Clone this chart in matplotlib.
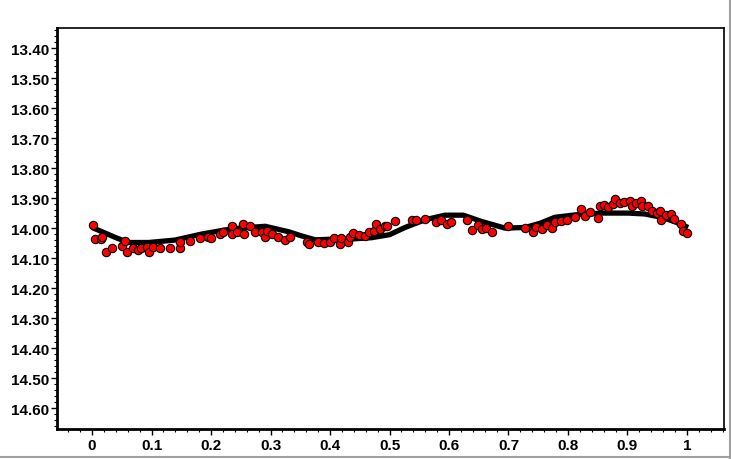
import numpy as np
import matplotlib
matplotlib.use('Agg')
import matplotlib.pyplot as plt
from matplotlib.ticker import MultipleLocator, FormatStrFormatter, FuncFormatter
from matplotlib.lines import Line2D

# observed points (phase, magnitude)
phase = [0.001, 0.005, 0.015, 0.017, 0.023, 0.033, 0.050, 0.055, 0.059, 0.068,
         0.077, 0.083, 0.092, 0.096, 0.103, 0.114, 0.131, 0.148, 0.148, 0.165,
         0.182, 0.195, 0.200, 0.215, 0.220, 0.235, 0.235, 0.246,
         0.243, 0.253, 0.256, 0.266, 0.274, 0.286, 0.290, 0.294, 0.302, 0.313,
         0.324, 0.333, 0.362, 0.365, 0.380, 0.389, 0.400, 0.407, 0.417, 0.419,
         0.431, 0.434, 0.439, 0.449, 0.459, 0.466, 0.474, 0.478, 0.484, 0.492,
         0.495, 0.510, 0.537, 0.544, 0.560, 0.578, 0.587, 0.596, 0.604, 0.630,
         0.638, 0.648, 0.655, 0.663, 0.673, 0.700, 0.728, 0.742, 0.747,
         0.757, 0.764, 0.773, 0.779, 0.788, 0.798, 0.811, 0.822, 0.829, 0.837,
         0.850, 0.854, 0.860, 0.867, 0.875, 0.879, 0.888, 0.895, 0.904, 0.908,
         0.915, 0.923, 0.925, 0.935, 0.941, 0.949, 0.955, 0.957, 0.965, 0.973,
         0.979, 0.990, 0.993, 1.000]
mag = [13.989, 14.037, 14.037, 14.029, 14.081, 14.067, 14.061, 14.042, 14.081, 14.068,
       14.072, 14.068, 14.064, 14.079, 14.064, 14.067, 14.068, 14.067, 14.048, 14.044,
       14.034, 14.031, 14.034, 14.020, 14.012, 13.992, 14.020, 14.009,
       14.014, 13.987, 14.020, 13.994, 14.012, 14.014, 14.031, 14.009, 14.020, 14.029,
       14.039, 14.029, 14.048, 14.054, 14.048, 14.051, 14.048, 14.034, 14.053, 14.034,
       14.048, 14.031, 14.017, 14.023, 14.026, 14.012, 14.009, 13.987, 14.003, 13.992,
       13.994, 13.978, 13.972, 13.972, 13.970, 13.981, 13.972, 13.987, 13.981, 13.973,
       14.006, 13.990, 14.003, 14.001, 14.012, 13.992, 14.001, 14.012, 13.998,
       14.003, 13.990, 14.001, 13.981, 13.976, 13.972, 13.964, 13.937, 13.961, 13.946,
       13.967, 13.926, 13.923, 13.931, 13.920, 13.903, 13.917, 13.912, 13.911, 13.926,
       13.917, 13.909, 13.926, 13.928, 13.942, 13.950, 13.944, 13.974, 13.956, 13.953,
       13.970, 13.987, 14.009, 14.017]

# fitted curve
fit_phase = [0.000, 0.020, 0.040, 0.061, 0.095, 0.139, 0.184, 0.224, 0.249, 0.291,
             0.330, 0.352, 0.375, 0.403, 0.431, 0.470, 0.500, 0.526, 0.560, 0.593,
             0.624, 0.655, 0.694, 0.728, 0.753, 0.778, 0.812, 0.857, 0.901, 0.929,
             0.957, 0.980, 1.002]
fit_mag = [13.998, 14.015, 14.032, 14.048, 14.048, 14.040, 14.020, 14.006, 14.000, 13.994,
           14.012, 14.026, 14.039, 14.037, 14.037, 14.032, 14.022, 13.998, 13.972, 13.957,
           13.957, 13.978, 14.000, 13.998, 13.984, 13.964, 13.956, 13.950, 13.950, 13.953,
           13.964, 13.979, 13.998]

plt.rcParams['font.family'] = ['Liberation Sans', 'DejaVu Sans']

fig = plt.figure(figsize=(7.31, 4.60), dpi=100)
ax = fig.add_axes([0.078, 0.065, 0.913, 0.872])

ax.plot(fit_phase, fit_mag, color='black', lw=3.8, solid_capstyle='butt', zorder=2)
ax.plot(phase, mag, 'o', color='red', mec='black', mew=0.8, ms=6, zorder=3)

ax.set_xlim(-0.059, 1.063)
ax.set_ylim(14.67, 13.333)

ax.xaxis.set_major_locator(MultipleLocator(0.1))
ax.xaxis.set_minor_locator(MultipleLocator(0.02))
ax.xaxis.set_major_formatter(FuncFormatter(lambda v, p: '%g' % round(v, 2)))
ax.yaxis.set_major_locator(MultipleLocator(0.1))
ax.yaxis.set_minor_locator(MultipleLocator(0.02))
ax.yaxis.set_major_formatter(FormatStrFormatter('%.2f'))

ax.tick_params(which='major', direction='out', length=4, width=1, labelsize=11)
ax.tick_params(axis='x', which='major', pad=2.5)
ax.tick_params(axis='y', which='major', pad=1.5)
ax.tick_params(which='minor', direction='out', length=2, width=0.8)
for lab in ax.get_xticklabels() + ax.get_yticklabels():
    lab.set_fontweight('bold')

ax.spines['left'].set_linewidth(2)
ax.spines['bottom'].set_linewidth(2)
ax.spines['top'].set_linewidth(1.2)
ax.spines['right'].set_linewidth(1.2)

# window border
fig.add_artist(Line2D([0.9985, 0.9985], [0, 1], color='#a0a0a0', lw=1.5))
fig.add_artist(Line2D([0, 1], [0.004, 0.004], color='#a0a0a0', lw=1.5))

fig.savefig('out.png', dpi=100)
